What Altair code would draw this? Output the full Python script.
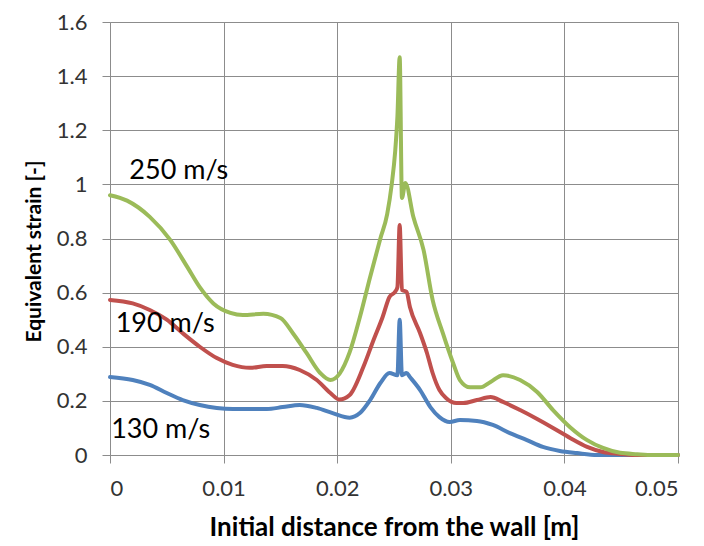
import altair as alt
import pandas as pd

# ---- data ----
series_names = ["130 m/s", "190 m/s", "250 m/s"]
series_colors = ["#4F81BD", "#C0504D", "#9BBB59"]

x_130 = [0, 0.002, 0.0035, 0.005, 0.0064, 0.0079, 0.0094, 0.0108, 0.0123, 0.0138, 0.0152,
         0.0167, 0.0182, 0.0196, 0.0211, 0.022, 0.0229, 0.0238, 0.0246, 0.0253, 0.0255,
         0.0257, 0.0261, 0.0264, 0.0273, 0.0282, 0.029, 0.0299, 0.0308, 0.0323, 0.0337,
         0.0352, 0.0367, 0.0381, 0.0396, 0.0411, 0.0429, 0.05]
y_130 = [0.288, 0.277, 0.259, 0.229, 0.203, 0.185, 0.174, 0.17, 0.17, 0.17, 0.177,
         0.185, 0.174, 0.155, 0.138, 0.155, 0.203, 0.266, 0.303, 0.295, 0.50,
         0.295, 0.303, 0.288, 0.24, 0.177, 0.14, 0.122, 0.129, 0.126, 0.111,
         0.081, 0.055, 0.03, 0.015, 0.007, 0.0, 0.0]

x_190 = [0, 0.002, 0.0035, 0.005, 0.0064, 0.0079, 0.0094, 0.0108, 0.0123, 0.0138, 0.0152,
         0.0167, 0.0182, 0.0194, 0.0202, 0.0211, 0.0223, 0.0232, 0.024, 0.0246, 0.0251,
         0.0253, 0.0255, 0.0257, 0.0261, 0.0264, 0.0273, 0.0279, 0.0284, 0.029, 0.0296,
         0.0305, 0.0311, 0.0323, 0.0335, 0.0346, 0.0361, 0.0376, 0.039, 0.0405, 0.042,
         0.0434, 0.0449, 0.046, 0.05]
y_190 = [0.573, 0.56, 0.536, 0.50, 0.45, 0.40, 0.358, 0.333, 0.322, 0.329, 0.329,
         0.314, 0.277, 0.229, 0.205, 0.222, 0.325, 0.425, 0.51, 0.584, 0.603,
         0.62, 0.85, 0.61, 0.603, 0.547, 0.45, 0.377, 0.303, 0.24, 0.21,
         0.192, 0.192, 0.203, 0.214, 0.196, 0.166, 0.133, 0.10, 0.063, 0.03,
         0.011, 0.004, 0.0, 0.0]

x_250 = [0, 0.0015, 0.0035, 0.0053, 0.0068, 0.0079, 0.0091, 0.0106, 0.0117, 0.0135, 0.015,
         0.0161, 0.0173, 0.0185, 0.0194, 0.0202, 0.0211, 0.022, 0.0229, 0.0238, 0.0244,
         0.0248, 0.0251, 0.0253, 0.0255, 0.0257, 0.026, 0.0267, 0.0276, 0.0284, 0.0293,
         0.0302, 0.0308, 0.0317, 0.0326, 0.0335, 0.0346, 0.0361, 0.0376, 0.039, 0.0405,
         0.042, 0.0434, 0.0449, 0.0464, 0.0478, 0.05]
y_250 = [0.96, 0.94, 0.88, 0.795, 0.695, 0.62, 0.56, 0.525, 0.517, 0.522, 0.506,
         0.45, 0.377, 0.303, 0.277, 0.30, 0.38, 0.51, 0.658, 0.80, 0.89,
         1.0, 1.12, 1.25, 1.47, 0.95, 1.005, 0.88, 0.758, 0.573, 0.45,
         0.34, 0.277, 0.25, 0.25, 0.27, 0.295, 0.277, 0.233, 0.166, 0.103,
         0.055, 0.026, 0.008, 0.003, 0.0, 0.0]

label_x = [0.0001, 0.0005, 0.0017]
label_y = [0.094, 0.484, 1.05]

x_ticks = [0, 0.01, 0.02, 0.03, 0.04, 0.05]
y_ticks = [0, 0.2, 0.4, 0.6, 0.8, 1.0, 1.2, 1.4, 1.6]

# ---- build table ----
rows = []
for name, xs, ys in zip(series_names, [x_130, x_190, x_250], [y_130, y_190, y_250]):
    for i, (xv, yv) in enumerate(zip(xs, ys)):
        rows.append({"series": name, "x": xv, "y": yv, "idx": i})
df = pd.DataFrame(rows)
labels = pd.DataFrame({"series": series_names, "x": label_x, "y": label_y})

FONT = "Lato"
GRID = "#8c8c8c"

xenc = alt.X("x:Q", scale=alt.Scale(domain=[0, 0.05], nice=False),
             axis=alt.Axis(values=x_ticks, format="~g", title="Initial distance from the wall [m]",
                           titleX=284, titleY=80, titleBaseline="alphabetic", titleAnchor="middle",
                           titleFontSize=26))
yenc = alt.Y("y:Q", scale=alt.Scale(domain=[0, 1.6], nice=False),
             axis=alt.Axis(values=y_ticks, format="~g", title="Equivalent strain [-]",
                           titleX=-76, titleY=229, titleBaseline="middle", titleAngle=-90,
                           titleFontSize=21))

layers = []
for name, col in zip(series_names, series_colors):
    layers.append(
        alt.Chart(df).transform_filter(alt.datum.series == name)
        .mark_line(color=col, strokeWidth=4, strokeJoin="round", strokeCap="round",
                   interpolate="monotone")
        .encode(x=xenc, y=yenc, order="idx:Q")
    )

text = alt.Chart(labels).mark_text(align="left", baseline="middle", font=FONT, fontSize=27,
                                   color="#000000").encode(
    x=alt.X("x:Q"), y=alt.Y("y:Q"), text="series:N")

chart = alt.layer(*layers, text).properties(
    width=568, height=433,
    autosize=alt.AutoSizeParams(type="none"),
    padding={"left": 102, "top": 14, "right": 18, "bottom": 88},
).configure_view(stroke=None).configure_axis(
    gridColor=GRID, gridWidth=1, gridOpacity=1,
    domainColor=GRID, domainWidth=1,
    tickColor=GRID, tickSize=8, tickWidth=1,
    labelFont=FONT, labelFontSize=22, labelColor="#333333", labelPadding=12,
    titleFont=FONT, titleFontWeight="bold", titleColor="#000000",
).configure_axisX(labelPadding=15).configure_axisY(labelPadding=15)

chart.save("out.html", embed_options={"renderer": "svg", "actions": False})
